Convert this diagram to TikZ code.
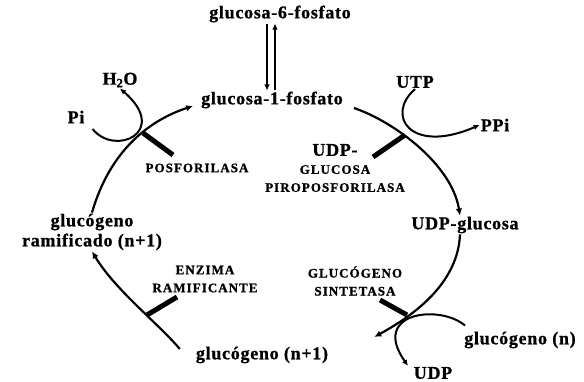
\documentclass[tikz,border=0pt]{standalone}
\usepackage{fontspec}
\setmainfont{Liberation Serif}[LetterSpace=4, BoldFeatures={FakeBold=1}]
\newfontfamily\enzfont{Liberation Serif}[LetterSpace=8, BoldFeatures={FakeBold=1}]
\usepackage{tikz}
\usetikzlibrary{positioning,arrows.meta,calc}

\begin{document}
\begin{tikzpicture}[x=1pt, y=1pt,
    met/.style={font=\fontsize{18}{20}\selectfont\bfseries, inner sep=1pt},
    enz/.style={font=\enzfont\fontsize{13}{18}\selectfont\bfseries, align=center, inner sep=1pt},
    ruta/.style={line width=2.2pt, -{Latex[length=7pt,width=6.5pt]}},
    lado/.style={line width=2pt, -{Latex[length=6pt,width=5.5pt]}},
    barra/.style={line width=5pt}]
    \useasboundingbox (0,0) rectangle (584,382);
    % metabolitos
    \node[met] (g6) at (280,368) {glucosa-6-fosfato};
    \node[met] (g1) at (272,282) {glucosa-1-fosfato};
    \node[met] (udpg) at (465,157) {UDP-glucosa};
    \node[met] (gn1) at (262,27) {glucógeno (n+1)};
    \node[met, align=center] (gram) at (92,150) {glucógeno\\ramificado (n+1)};
    \node[met] (pi) at (76,265) {Pi};
    \node[met] (h2o) at (120,302) {H\textsubscript{2}O};
    \node[met] (utp) at (415,300) {UTP};
    \node[met] (ppi) at (495,257) {PPi};
    \node[met] (gn) at (520,42) {glucógeno (n)};
    \node[met] (udp) at (433,9) {UDP};
    % enzimas
    \node[enz] (posf) at (197,214) {POSFORILASA};
    \node[enz] (udpgp) at (335,214) {{\normalfont\fontsize{18}{18}\selectfont\bfseries UDP-}\\GLUCOSA\\PIROPOSFORILASA};
    \node[enz] (gsint) at (355,101) {GLUCÓGENO\\SINTETASA};
    \node[enz] (ramif) at (205,103) {ENZIMA\\RAMIFICANTE};
    % glucosa-6 <-> glucosa-1
    \draw[lado] ([xshift=-13pt]g6.south) -- ([xshift=-5pt]g1.north);
    \draw[lado] ([xshift=3pt]g1.north) -- ([xshift=-5pt]g6.south);
    % ciclo
    \draw[ruta] (gram.north) .. controls (110,232) and (150,262) .. ([xshift=-7pt,yshift=-6pt]g1.west);
    \draw[ruta] ([xshift=10pt,yshift=-8pt]g1.east) .. controls (395,260) and (452,217) .. ([xshift=-5pt]udpg.north);
    \draw[ruta] ([xshift=-5pt]udpg.south) .. controls (458,102) and (420,70) .. ([xshift=45pt,yshift=18pt]gn1.east);
    \draw[ruta] ([xshift=-15pt,yshift=6pt]gn1.west) .. controls (160,57) and (115,92) .. (gram.south);
    % reacciones laterales
    \draw[lado] ([xshift=7pt,yshift=-12pt]pi.east) .. controls (115,225) and (170,250) .. (h2o.south);
    \draw[lado] (utp.south) .. controls (385,267) and (410,227) .. (ppi.west);
    \draw[lado] ([xshift=-55pt,yshift=5pt]gn.north) .. controls (440,78) and (370,70) .. ([xshift=-25pt]udp.north);
    % enzimas sobre el ciclo
    \coordinate (cposf) at (143,249);
    \coordinate (eposf) at (173,227);
    \coordinate (cudpgp) at (405,247);
    \coordinate (eudpgp) at (373,225);
    \coordinate (cgsint) at (407,67);
    \coordinate (egsint) at (380,82);
    \coordinate (cramif) at (147,67);
    \coordinate (eramif) at (177,85);
    \draw[barra] (cposf) -- (eposf);
    \draw[barra] (cudpgp) -- (eudpgp);
    \draw[barra] (cgsint) -- (egsint);
    \draw[barra] (cramif) -- (eramif);
\end{tikzpicture}
\end{document}
